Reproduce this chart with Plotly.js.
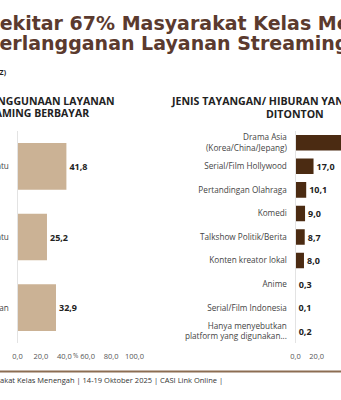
<!DOCTYPE html>
<html>
<head>
<meta charset="utf-8">
<script src="https://cdn.plot.ly/plotly-3.0.1.min.js"></script>
<style>html,body{margin:0;padding:0;background:#fff;}#chart{width:341px;height:400px;}</style>
</head>
<body>
<div id="chart"></div>
<script>
// ---- data ----
const leftCategories = ['Lebih dari satu', 'Hanya satu', 'Tidak berlangganan'];
const leftValues = [41.8, 25.2, 32.9];
const rightCategories = [
  'Drama Asia<br>(Korea/China/Jepang)',
  'Serial/Film Hollywood',
  'Pertandingan Olahraga',
  'Komedi',
  'Talkshow Politik/Berita',
  'Konten kreator lokal',
  'Anime',
  'Serial/Film Indonesia',
  'Hanya menyebutkan<br>platform yang digunakan...'
];
const rightValues = [46.6, 17.0, 10.1, 9.0, 8.7, 8.0, 0.3, 0.1, 0.2];
const tickValues = [0, 20, 40, 60, 80, 100];

const W = 341, H = 400;
const px = v => v / W;
const py = v => (H - v) / H;

const FONT = 'Open Sans, Noto Sans, sans-serif';
const TAN = '#cbb295';
const BROWN = '#4b2b12';
const TITLE = '#5b3a2e';

const traces = [
  {
    type: 'bar', orientation: 'h',
    x: leftValues, y: leftCategories,
    xaxis: 'x', yaxis: 'y',
    marker: {color: TAN},
    texttemplate: '%{x:.1f}', textposition: 'outside', cliponaxis: false,
    textfont: {family: FONT, size: 9, color: '#222', weight: 700},
    hoverinfo: 'none'
  },
  {
    type: 'bar', orientation: 'h',
    x: rightValues, y: rightCategories,
    xaxis: 'x2', yaxis: 'y2',
    marker: {color: BROWN},
    texttemplate: '%{x:.1f}', textposition: 'outside', cliponaxis: true,
    textfont: {family: FONT, size: 9, color: '#222', weight: 700},
    hoverinfo: 'none'
  }
];

const yDom = [py(343), py(131)];
const tickFont = {family: FONT, size: 7.5, color: '#555'};
const catFont = {family: FONT, size: 8.2, color: '#444'};
const TFONT = {family: 'DejaVu Sans, sans-serif', size: 19, color: TITLE, weight: 700};
const HFONT = {family: FONT, size: 10.5, color: '#222', weight: 700};

const layout = {
  width: W, height: H,
  margin: {l: 0, r: 0, t: 0, b: 0},
  paper_bgcolor: '#fff', plot_bgcolor: '#fff',
  showlegend: false,
  separators: ',.',
  bargap: 0.34,
  font: {family: FONT},
  xaxis: {
    domain: [px(17.5), px(134.5)], range: [0, 100],
    tickvals: tickValues, tickformat: '.1f',
    ticks: 'outside', ticklen: 6, tickcolor: 'rgba(0,0,0,0)',
    showgrid: false, zeroline: false, showline: false,
    tickfont: tickFont, anchor: 'y'
  },
  yaxis: {
    domain: yDom, autorange: 'reversed',
    showline: true, linecolor: '#e3e3e3', linewidth: 1,
    ticks: 'outside', ticklen: 6, tickcolor: 'rgba(0,0,0,0)',
    tickfont: catFont, anchor: 'x', showgrid: false
  },
  xaxis2: {
    domain: [px(295.5), 1], range: [0, 42.9],
    tickvals: tickValues, tickformat: '.1f',
    ticks: 'outside', ticklen: 6, tickcolor: 'rgba(0,0,0,0)',
    showgrid: false, zeroline: false, showline: false,
    tickfont: tickFont, anchor: 'y2'
  },
  yaxis2: {
    domain: yDom, autorange: 'reversed',
    showline: true, linecolor: '#e3e3e3', linewidth: 1,
    ticks: 'outside', ticklen: 6, tickcolor: 'rgba(0,0,0,0)',
    tickfont: catFont, anchor: 'x2', showgrid: false
  },
  shapes: [
    {type: 'line', xref: 'paper', yref: 'paper', x0: 0, x1: 1, y0: py(371.5), y1: py(371.5),
     line: {color: '#8c6d52', width: 2}}
  ],
  annotations: [
    {xref: 'paper', yref: 'paper', x: px(-14), y: py(23), xanchor: 'left', yanchor: 'middle',
     borderpad: 0, borderwidth: 0,
     text: 'Sekitar 67% Masyarakat Kelas Menengah', showarrow: false, font: TFONT},
    {xref: 'paper', yref: 'paper', x: px(-14.6), y: py(43), xanchor: 'left', yanchor: 'middle',
     borderpad: 0, borderwidth: 0,
     text: 'Berlangganan Layanan Streaming', showarrow: false, font: TFONT},
    {xref: 'paper', yref: 'paper', x: px(9), y: py(72), xanchor: 'right', yanchor: 'middle',
     text: '(Responden Gen Z)', showarrow: false,
     font: {family: FONT, size: 7, color: '#222', weight: 700}},
    {xref: 'paper', yref: 'paper', x: px(115), y: py(101), xanchor: 'right', yanchor: 'middle',
     borderpad: 0, borderwidth: 0,
     text: 'POLA PENGGUNAAN LAYANAN', showarrow: false, font: HFONT},
    {xref: 'paper', yref: 'paper', x: px(89), y: py(113.5), xanchor: 'right', yanchor: 'middle',
     borderpad: 0, borderwidth: 0,
     text: 'STREAMING BERBAYAR', showarrow: false, font: HFONT},
    {xref: 'paper', yref: 'paper', x: px(171), y: py(101), xanchor: 'left', yanchor: 'middle',
     borderpad: 0, borderwidth: 0,
     text: 'JENIS TAYANGAN/ HIBURAN YANG PALING SERING', showarrow: false,
     font: {family: FONT, size: 10.6, color: '#222', weight: 700}},
    {xref: 'paper', yref: 'paper', x: px(295), y: py(114), xanchor: 'center', yanchor: 'middle',
     borderpad: 0, borderwidth: 0,
     text: 'DITONTON', showarrow: false,
     font: {family: FONT, size: 10.6, color: '#222', weight: 700}},
    {xref: 'paper', yref: 'paper', x: px(76), y: py(355), xanchor: 'center', yanchor: 'middle',
     text: '%', showarrow: false, font: {family: FONT, size: 6.5, color: '#555'}},
    {xref: 'paper', yref: 'paper', x: px(225), y: py(380), xanchor: 'right', yanchor: 'middle',
     text: 'Survei Masyarakat Kelas Menengah | 14-19 Oktober 2025 | CASI Link Online |', showarrow: false,
     font: {family: FONT, size: 7.5, color: '#333'}}
  ]
};

Plotly.newPlot('chart', traces, layout, {displayModeBar: false, staticPlot: true});
</script>
</body>
</html>
